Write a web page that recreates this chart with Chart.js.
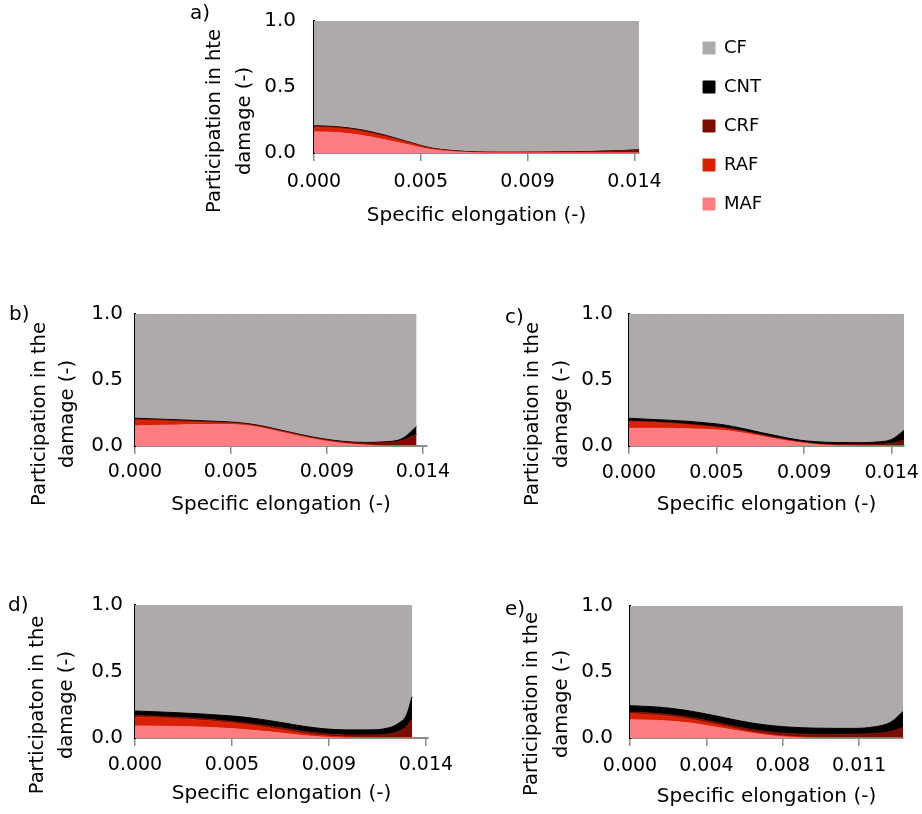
<!DOCTYPE html>
<html>
<head>
<meta charset="utf-8">
<script src="https://cdn.jsdelivr.net/npm/chart.js@4/dist/chart.umd.min.js"></script>
<style>
html,body{margin:0;padding:0;background:#fff;}
#wrap{position:relative;width:922px;height:814px;overflow:hidden;background:#fff;}
#wrap canvas{position:absolute;}
</style>
</head>
<body>
<div id="wrap"></div>
<script>
// ---------- data ----------
const seriesNames  = ['MAF', 'RAF', 'CRF', 'CNT', 'CF'];
const seriesColors = ['#FF7C80', '#D92000', '#7B0C00', '#000000', '#AEAAAA'];
const yTickValues = [0, 0.5, 1.0];
const yTickLabels = ['0.0', '0.5', '1.0'];
const xAxisTitle = 'Specific elongation (-)';

// panel a
const aElongation = [0, 0.001, 0.002, 0.003, 0.004, 0.005, 0.006, 0.007, 0.008, 0.009, 0.010, 0.011, 0.012, 0.013, 0.014];
const aMAF = [0.160, 0.155, 0.135, 0.102, 0.065, 0.027, 0.010, 0.002, 0, 0, 0, 0, 0, 0, 0];
const aRAF = [0.035, 0.033, 0.030, 0.024, 0.016, 0.007, 0.003, 0.001, 0.001, 0.001, 0.001, 0.001, 0.001, 0.001, 0.001];
const aCRF = [0.008, 0.007, 0.008, 0.008, 0.005, 0.004, 0.004, 0.004, 0.004, 0.004, 0.005, 0.007, 0.010, 0.015, 0.022];
const aCNT = [0.004, 0.004, 0.004, 0.004, 0.002, 0.002, 0.001, 0.001, 0.001, 0.001, 0.001, 0.001, 0.001, 0.001, 0.001];
const aCF  = [0.793, 0.801, 0.823, 0.862, 0.912, 0.960, 0.982, 0.992, 0.994, 0.994, 0.993, 0.991, 0.988, 0.983, 0.976];
const aXTickValues = [0, 0.0046, 0.0092, 0.0138];
const aXTickLabels = ['0.000', '0.005', '0.009', '0.014'];

// panel b
const bElongation = [0, 0.001, 0.002, 0.003, 0.004, 0.005, 0.006, 0.007, 0.008, 0.009, 0.010, 0.011, 0.012, 0.0128, 0.0135];
const bMAF = [0.152, 0.156, 0.159, 0.162, 0.163, 0.160, 0.140, 0.105, 0.070, 0.040, 0.018, 0.006, 0, 0, 0];
const bRAF = [0.045, 0.035, 0.025, 0.018, 0.012, 0.008, 0.006, 0.006, 0.006, 0.005, 0.004, 0.003, 0.002, 0.002, 0.002];
const bCRF = [0.007, 0.008, 0.009, 0.007, 0.005, 0.004, 0.004, 0.004, 0.004, 0.005, 0.008, 0.012, 0.022, 0.040, 0.086];
const bCNT = [0.006, 0.006, 0.006, 0.006, 0.006, 0.005, 0.005, 0.005, 0.005, 0.005, 0.005, 0.006, 0.008, 0.013, 0.060];
const bCF  = [0.790, 0.795, 0.801, 0.807, 0.814, 0.823, 0.845, 0.880, 0.915, 0.945, 0.965, 0.973, 0.968, 0.945, 0.852];
const bXTickValues = [0, 0.0046, 0.0092, 0.0138];
const bXTickLabels = ['0.000', '0.005', '0.009', '0.014'];

// panel c
const cElongation = [0, 0.001, 0.002, 0.003, 0.004, 0.005, 0.006, 0.007, 0.008, 0.009, 0.010, 0.011, 0.012, 0.013, 0.0138, 0.01445];
const cMAF = [0.134, 0.134, 0.134, 0.131, 0.126, 0.118, 0.098, 0.072, 0.046, 0.024, 0.008, 0.002, 0, 0, 0, 0];
const cRAF = [0.050, 0.045, 0.038, 0.030, 0.022, 0.015, 0.010, 0.007, 0.005, 0.004, 0.003, 0.002, 0.002, 0.002, 0.002, 0.002];
const cCRF = [0.006, 0.006, 0.006, 0.006, 0.006, 0.006, 0.005, 0.005, 0.004, 0.004, 0.005, 0.006, 0.007, 0.010, 0.018, 0.042];
const cCNT = [0.020, 0.018, 0.018, 0.021, 0.022, 0.021, 0.019, 0.016, 0.015, 0.012, 0.015, 0.016, 0.016, 0.018, 0.030, 0.074];
const cCF  = [0.790, 0.797, 0.804, 0.812, 0.824, 0.840, 0.868, 0.900, 0.930, 0.956, 0.969, 0.974, 0.975, 0.970, 0.950, 0.882];
const cXTickValues = [0, 0.0046, 0.0092, 0.0138];
const cXTickLabels = ['0.000', '0.005', '0.009', '0.014'];

// panel d
const dElongation = [0, 0.001, 0.002, 0.003, 0.004, 0.005, 0.006, 0.007, 0.008, 0.009, 0.010, 0.011, 0.012, 0.0125, 0.0129, 0.01314];
const dMAF = [0.090, 0.089, 0.087, 0.083, 0.076, 0.066, 0.052, 0.036, 0.018, 0.006, 0, 0, 0, 0, 0, 0];
const dRAF = [0.068, 0.064, 0.058, 0.052, 0.046, 0.040, 0.033, 0.025, 0.016, 0.010, 0.007, 0.005, 0.004, 0.004, 0.004, 0.004];
const dCRF = [0.012, 0.011, 0.011, 0.011, 0.011, 0.011, 0.012, 0.014, 0.016, 0.016, 0.016, 0.018, 0.025, 0.045, 0.085, 0.140];
const dCNT = [0.033, 0.033, 0.034, 0.036, 0.039, 0.043, 0.043, 0.040, 0.038, 0.037, 0.038, 0.038, 0.046, 0.061, 0.091, 0.166];
const dCF  = [0.797, 0.803, 0.810, 0.818, 0.828, 0.840, 0.860, 0.885, 0.912, 0.931, 0.939, 0.939, 0.925, 0.890, 0.820, 0.690];
const dXTickValues = [0, 0.0046, 0.0092, 0.0138];
const dXTickLabels = ['0.000', '0.005', '0.009', '0.014'];

// panel e
const eElongation = [0, 0.001, 0.002, 0.003, 0.004, 0.005, 0.006, 0.007, 0.008, 0.009, 0.010, 0.011, 0.012, 0.0128, 0.0134];
const eMAF = [0.138, 0.135, 0.127, 0.112, 0.088, 0.062, 0.036, 0.016, 0.004, 0, 0, 0, 0, 0, 0];
const eRAF = [0.045, 0.042, 0.036, 0.029, 0.022, 0.015, 0.010, 0.008, 0.006, 0.005, 0.004, 0.004, 0.004, 0.004, 0.004];
const eCRF = [0.012, 0.012, 0.013, 0.014, 0.015, 0.016, 0.018, 0.020, 0.022, 0.023, 0.024, 0.025, 0.030, 0.045, 0.075];
const eCNT = [0.050, 0.049, 0.049, 0.048, 0.049, 0.049, 0.049, 0.049, 0.049, 0.047, 0.045, 0.044, 0.051, 0.071, 0.121];
const eCF  = [0.755, 0.762, 0.775, 0.797, 0.826, 0.858, 0.887, 0.907, 0.919, 0.925, 0.927, 0.927, 0.915, 0.880, 0.800];
const eXTickValues = [0, 0.00375, 0.0075, 0.01125];
const eXTickLabels = ['0.000', '0.004', '0.008', '0.011'];

// ---------- layout (page pixels) ----------
const FONT = '"DejaVu Sans", "Liberation Sans", Arial, sans-serif';
Chart.defaults.font.family = FONT;
Chart.defaults.color = '#000';

const panels = [
  { id: 'ca', x: aElongation, series: [aMAF, aRAF, aCRF, aCNT, aCF], xMax: 0.014,
    xTicks: aXTickValues, xLabels: aXTickLabels, yTitle: ['Participation in hte', 'damage (-)'], label: 'a)',
    box: {left: 180, top: 0, width: 742, height: 246}, plot: {left: 314, right: 639, top: 21, bottom: 153},
    legend: {x: 703, y: 39, width: 70}, yTickPad: 18, xTickPad: 10, xTitlePad: 18,
    titleX: [215, 245], titleY: 121, labelX: 190, labelY: 14 },
  { id: 'cb', x: bElongation, series: [bMAF, bRAF, bCRF, bCNT, bCF], xMax: 0.014,
    xTicks: bXTickValues, xLabels: bXTickLabels, yTitle: ['Participation in the', 'damage (-)'], label: 'b)',
    box: {left: 0, top: 295, width: 461, height: 232}, plot: {left: 135, right: 427, top: 314, bottom: 446},
    legend: null, yTickPad: 12, xTickPad: 7, xTitlePad: 10,
    titleX: [40, 68], titleY: 414, labelX: 9, labelY: 315 },
  { id: 'cc', x: cElongation, series: [cMAF, cRAF, cCRF, cCNT, cCF], xMax: 0.01445,
    xTicks: cXTickValues, xLabels: cXTickLabels, yTitle: ['Participation in the', 'damage (-)'], label: 'c)',
    box: {left: 470, top: 295, width: 452, height: 232}, plot: {left: 629, right: 904, top: 314, bottom: 446},
    legend: null, yTickPad: 16, xTickPad: 8, xTitlePad: 10,
    titleX: [533, 562], titleY: 414, labelX: 505, labelY: 318 },
  { id: 'cd', x: dElongation, series: [dMAF, dRAF, dCRF, dCNT, dCF], xMax: 0.0139,
    xTicks: dXTickValues, xLabels: dXTickLabels, yTitle: ['Participaton in the', 'damage (-)'], label: 'd)',
    box: {left: 0, top: 586, width: 461, height: 228}, plot: {left: 135, right: 428, top: 605, bottom: 738},
    legend: null, yTickPad: 12, xTickPad: 8, xTitlePad: 8,
    titleX: [38, 67], titleY: 705, labelX: 8, labelY: 606 },
  { id: 'ce', x: eElongation, series: [eMAF, eRAF, eCRF, eCNT, eCF], xMax: 0.0134,
    xTicks: eXTickValues, xLabels: eXTickLabels, yTitle: ['Participation in the', 'damage (-)'], label: 'e)',
    box: {left: 470, top: 586, width: 452, height: 228}, plot: {left: 630, right: 903, top: 606, bottom: 738},
    legend: null, yTickPad: 17, xTickPad: 9, xTitlePad: 5,
    titleX: [532, 562], titleY: 704, labelX: 505, labelY: 610 }
];

// ---------- plugins ----------
const panelText = {
  id: 'panelText',
  afterDraw(chart, args, o) {
    if (!o || !o.lines) return;
    const ctx = chart.ctx;
    ctx.save();
    ctx.fillStyle = '#000';
    ctx.textBaseline = 'middle';
    ctx.font = '20px ' + FONT;
    ctx.textAlign = 'left';
    ctx.fillText(o.label, o.labelX, o.labelY);
    ctx.font = '19.5px ' + FONT;
    ctx.textAlign = 'center';
    o.lines.forEach((t, i) => {
      ctx.save();
      ctx.translate(o.xs[i], o.y);
      ctx.rotate(-Math.PI / 2);
      ctx.fillText(t, 0, 0);
      ctx.restore();
    });
    ctx.restore();
  }
};
const legendPlace = {
  id: 'legendPlace',
  afterLayout(chart, args, o) {
    const lg = chart.legend;
    if (!o || o.x == null || !lg || !lg.options.display) return;
    const pad = lg.options.labels.padding;
    const h = lg.height;
    lg.left = o.x - pad; lg.width = 200; lg.right = lg.left + 200;
    lg.top = o.y - pad; lg.bottom = lg.top + h;
  }
};

// ---------- build ----------
const wrap = document.getElementById('wrap');
panels.forEach(p => {
  const cv = document.createElement('canvas');
  cv.id = p.id;
  cv.width = p.box.width; cv.height = p.box.height;
  cv.style.left = p.box.left + 'px'; cv.style.top = p.box.top + 'px';
  cv.style.width = p.box.width + 'px'; cv.style.height = p.box.height + 'px';
  wrap.appendChild(cv);

  const legendW = p.legend ? p.legend.width : 0;
  const padRight = p.box.left + p.box.width - p.plot.right - legendW;
  const datasets = p.series.map((vals, k) => ({
    label: seriesNames[k],
    data: p.x.map((xv, i) => ({x: xv, y: vals[i]})),
    backgroundColor: seriesColors[k],
    borderColor: seriesColors[k],
    borderWidth: 1,
    pointRadius: 0,
    pointHoverRadius: 0,
    fill: k === 0 ? 'origin' : '-1',
    cubicInterpolationMode: 'monotone'
  }));

  new Chart(cv, {
    type: 'line',
    data: { datasets },
    plugins: [panelText, legendPlace],
    options: {
      responsive: false,
      animation: false,
      devicePixelRatio: 1,
      events: [],
      layout: { padding: { left: 0, top: p.plot.top - p.box.top, right: padRight, bottom: 0 } },
      scales: {
        x: {
          type: 'linear', min: 0, max: p.xMax,
          afterBuildTicks: s => { s.ticks = p.xTicks.map(v => ({value: v})); },
          afterFit: s => {
            s.height = p.box.top + p.box.height - p.plot.bottom;
            s.paddingLeft = 0; s.paddingRight = 0;
          },
          ticks: { autoSkip: false, maxRotation: 0, minRotation: 0, padding: p.xTickPad,
                   font: {size: 19}, color: '#000', callback: (v, i) => p.xLabels[i] },
          grid: { display: true, drawOnChartArea: false, drawTicks: true, tickLength: 8,
                  color: '#8C8C8C', lineWidth: 1.5 },
          border: { display: true, color: '#8C8C8C', width: 2 },
          title: { display: true, text: xAxisTitle, font: {size: 20}, color: '#000',
                   padding: {top: 0, bottom: p.xTitlePad} }
        },
        y: {
          stacked: true, min: 0, max: 1,
          afterBuildTicks: s => { s.ticks = yTickValues.map(v => ({value: v})); },
          afterFit: s => {
            s.width = p.plot.left - p.box.left;
            s.paddingTop = 0; s.paddingBottom = 0;
          },
          ticks: { padding: p.yTickPad, font: {size: 20}, color: '#000',
                   callback: (v, i) => yTickLabels[i] },
          grid: { display: false, drawTicks: false },
          border: { display: true, color: '#000', width: 2 }
        }
      },
      plugins: {
        tooltip: { enabled: false },
        legend: p.legend ? {
          display: true, position: 'right', align: 'start', reverse: true, maxWidth: p.legend.width,
          labels: { boxWidth: 12, boxHeight: 12, padding: 21, font: {size: 18}, color: '#000' }
        } : { display: false },
        legendPlace: p.legend ? { x: p.legend.x - p.box.left, y: p.legend.y - p.box.top } : {},
        panelText: {
          label: p.label, labelX: p.labelX - p.box.left, labelY: p.labelY - p.box.top,
          lines: p.yTitle, xs: p.titleX.map(v => v - p.box.left), y: p.titleY - p.box.top
        }
      }
    }
  });
});
</script>
</body>
</html>
